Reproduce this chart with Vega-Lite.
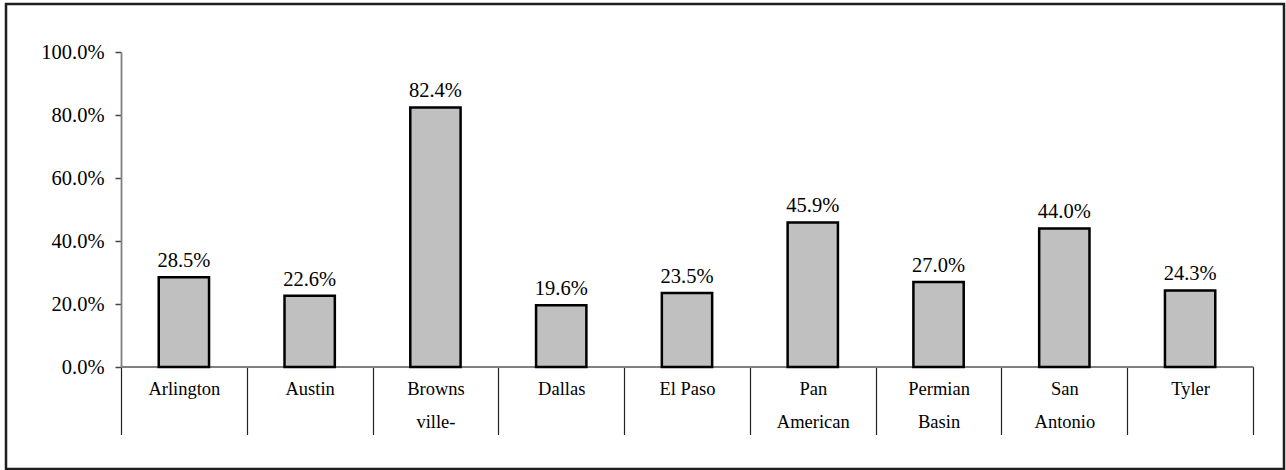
{
  "$schema": "https://vega.github.io/schema/vega-lite/v6.json",
  "width": 1278,
  "height": 465,
  "autosize": {"type": "none"},
  "padding": {"left": 6, "top": 4, "right": 2, "bottom": 1},
  "background": "white",
  "config": {
    "view": {"stroke": "#1e1e1e", "strokeWidth": 2.5},
    "font": "'Liberation Serif', 'Times New Roman', serif",
    "axis": {"grid": false, "labelFont": "'Liberation Serif', 'Times New Roman', serif", "labelColor": "#000000", "title": null}
  },
  "data": {
    "values": [
      {"region": "Arlington", "rate": 0.285},
      {"region": "Austin", "rate": 0.226},
      {"region": "Browns ville-", "rate": 0.824},
      {"region": "Dallas", "rate": 0.196},
      {"region": "El Paso", "rate": 0.235},
      {"region": "Pan American", "rate": 0.459},
      {"region": "Permian Basin", "rate": 0.270},
      {"region": "San Antonio", "rate": 0.440},
      {"region": "Tyler", "rate": 0.243}
    ]
  },
  "encoding": {
    "x": {
      "field": "region",
      "type": "nominal",
      "sort": null,
      "scale": {"range": [115, 1247], "paddingInner": 0, "paddingOuter": 0},
      "axis": {
        "orient": "bottom",
        "offset": -102.5,
        "labelAngle": 0,
        "labelFontSize": 18.5,
        "labelExpr": "!isValid(datum.value) ? '' : datum.value == 'El Paso' ? 'El Paso' : split(datum.value, ' ')",
        "labelLineHeight": 33.5,
        "labelBaseline": "top",
        "labelPadding": -55.5,
        "tickBand": "extent",
        "tickSize": 68,
        "tickColor": "#222222",
        "tickWidth": 1.2,
        "domainColor": "#808080",
        "domainWidth": 1.8
      }
    },
    "y": {
      "field": "rate",
      "type": "quantitative",
      "scale": {"domain": [0, 1], "range": [363, 48], "nice": false, "zero": true},
      "axis": {
        "orient": "left",
        "offset": -115,
        "values": [0, 0.2, 0.4, 0.6, 0.8, 1],
        "format": ".1%",
        "labelFontSize": 20.5,
        "labelPadding": 11,
        "tickSize": 6,
        "tickColor": "#444444",
        "tickWidth": 1.5,
        "domainColor": "#808080",
        "domainWidth": 1.8
      }
    }
  },
  "layer": [
    {
      "mark": {"type": "bar", "width": {"band": 0.4}, "fill": "#c0c0c0", "stroke": "#000000", "strokeWidth": 2.5}
    },
    {
      "mark": {"type": "text", "baseline": "alphabetic", "dy": -10, "fontSize": 20.5, "font": "'Liberation Serif', 'Times New Roman', serif", "color": "#000000"},
      "encoding": {"text": {"field": "rate", "type": "quantitative", "format": ".1%"}}
    }
  ]
}
